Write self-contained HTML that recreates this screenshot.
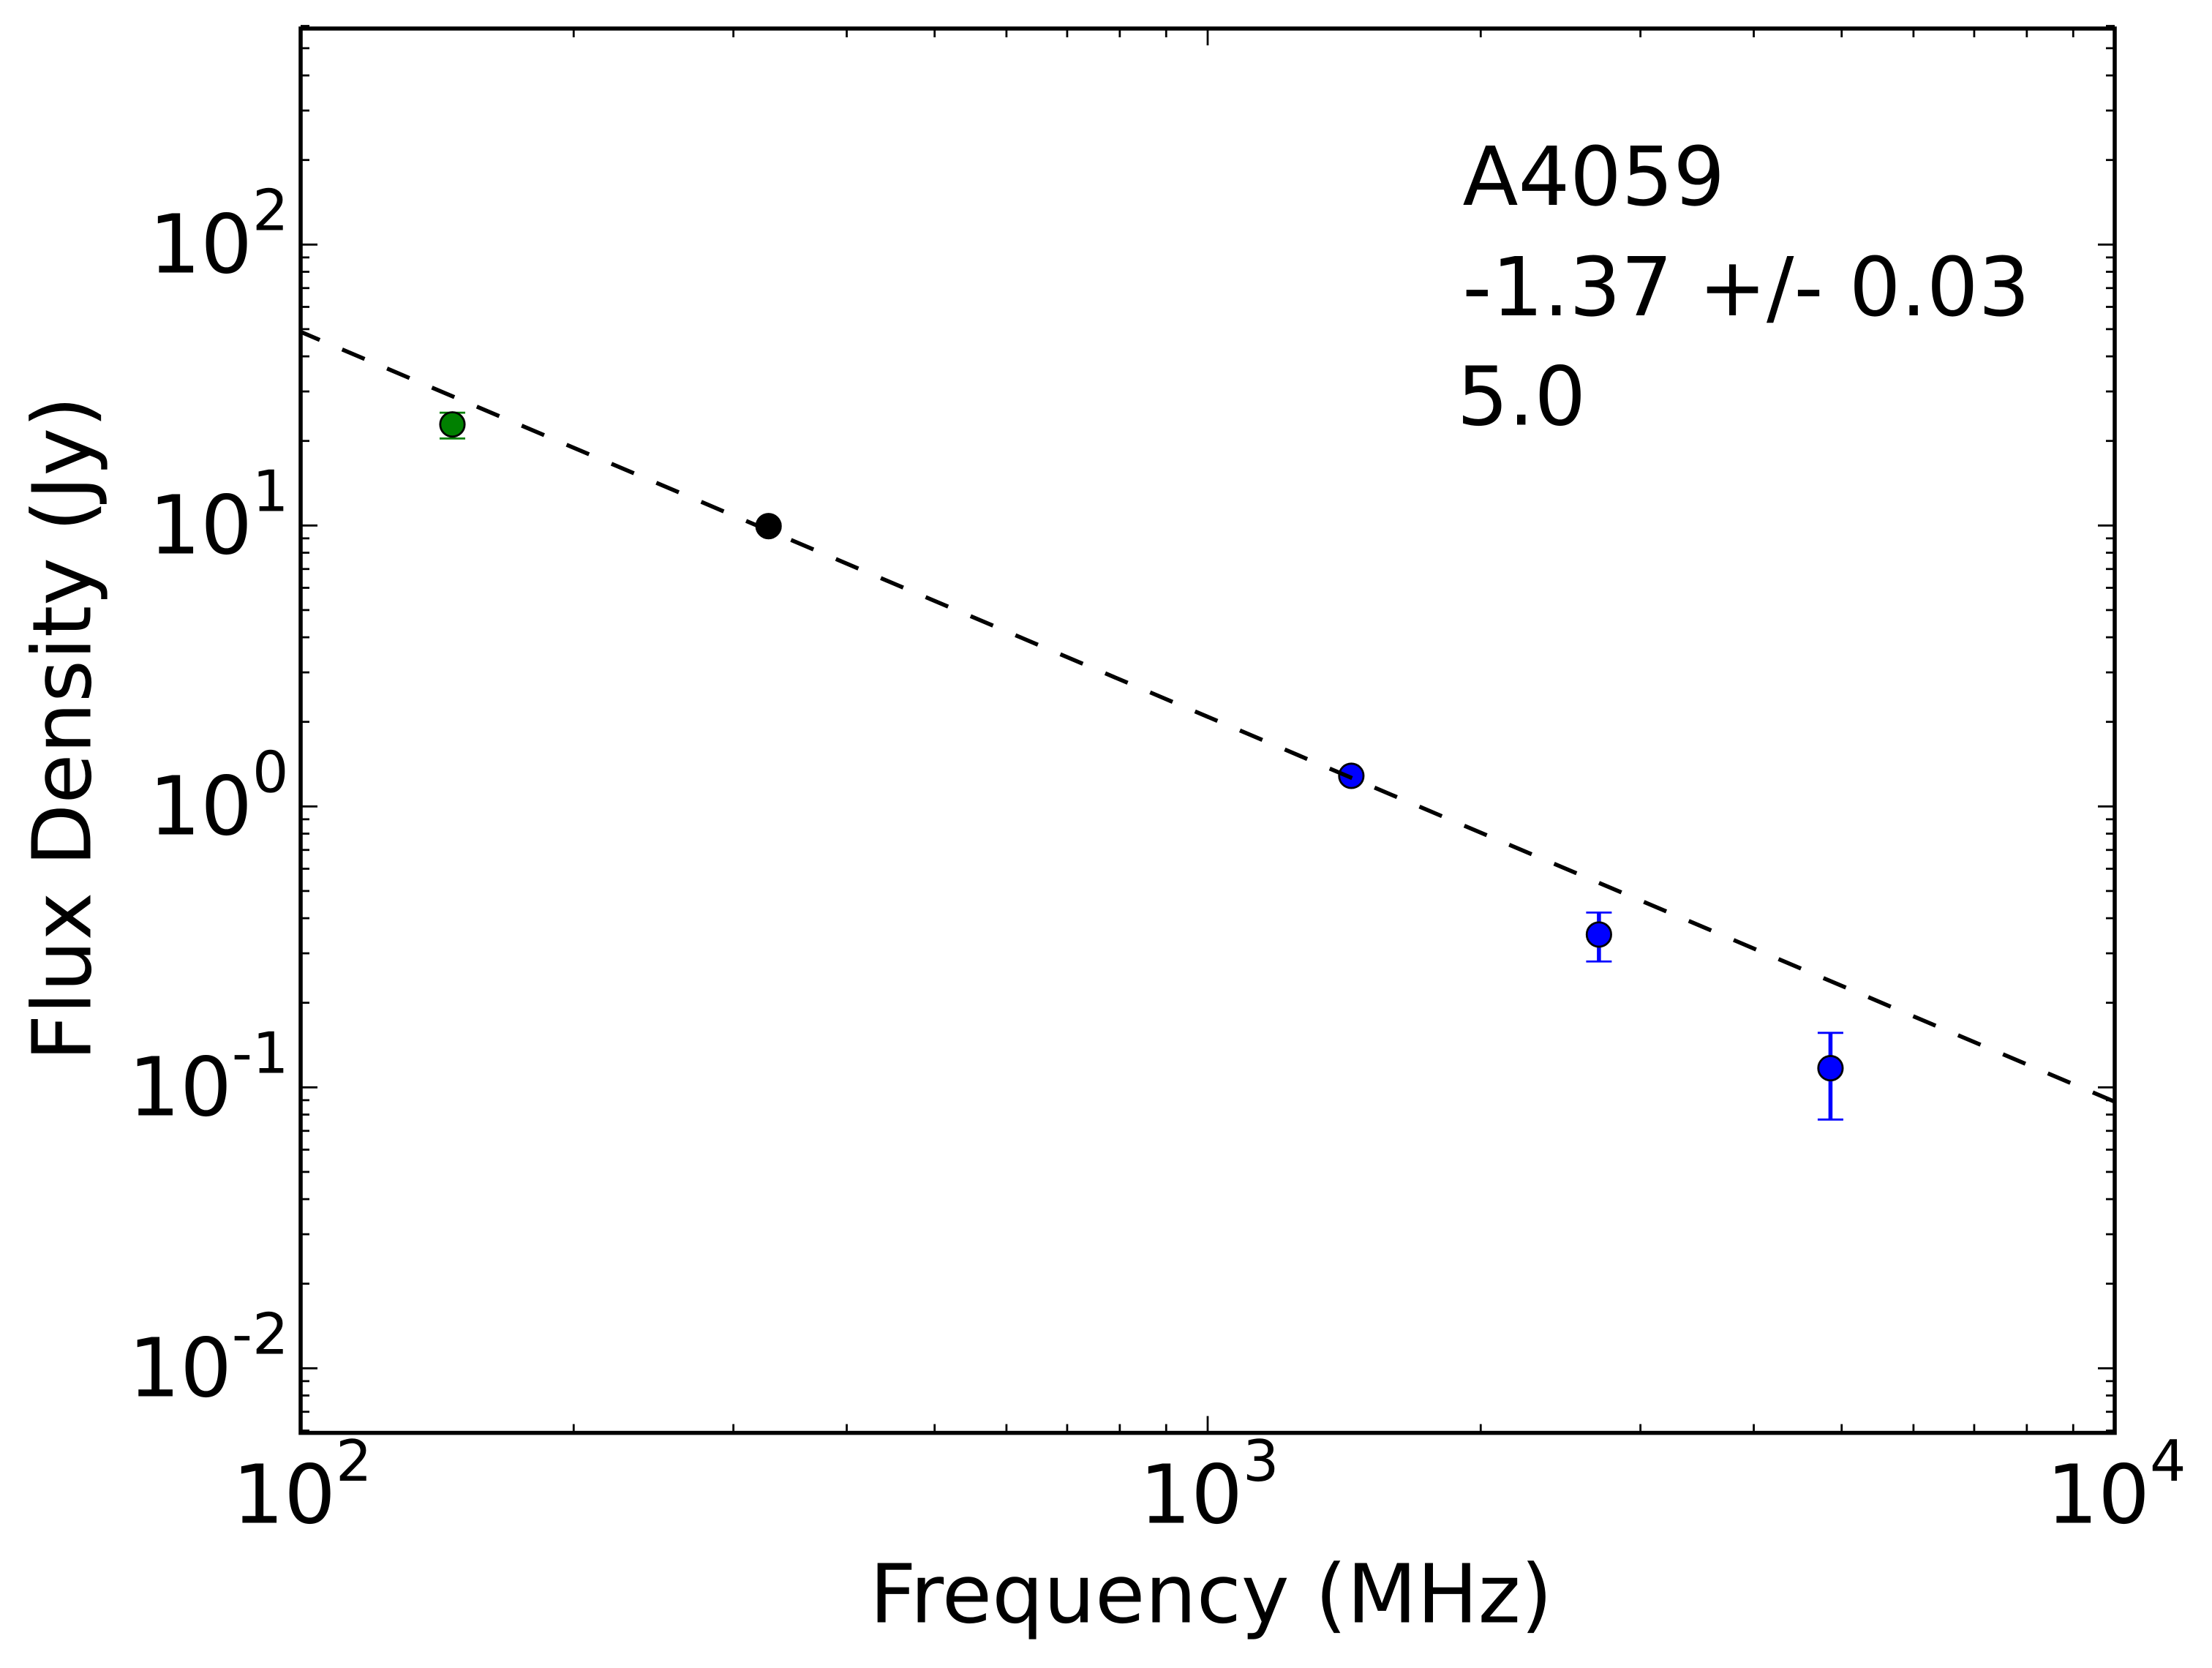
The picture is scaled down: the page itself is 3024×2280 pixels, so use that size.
<!DOCTYPE html>
<html lang="en">
<head>
<meta charset="utf-8">
<title>A4059 Flux Density Spectrum</title>
<style>
  html, body { margin: 0; padding: 0; background: #ffffff; }
  svg { display: block; }
  text { font-family: "DejaVu Sans", "Liberation Sans", sans-serif; fill: #000000; text-rendering: geometricPrecision; }
</style>
</head>
<body>
<svg id="chart" xmlns="http://www.w3.org/2000/svg" width="3024" height="2280" viewBox="0 0 3024 2280">
  <rect x="0" y="0" width="3024" height="2280" fill="#ffffff"/>
  <g id="error-layer"></g>
  <g id="marker-layer"></g>
  <g id="fit-layer"></g>
  <g id="tick-layer"></g>
  <rect x="411" y="39" width="2480" height="1919.6" fill="none" stroke="#000000" stroke-width="5.56"/>
  <g id="label-layer"></g>
  <text x="1655.5" y="2217.7" font-size="111.1" text-anchor="middle">Frequency (MHz)</text>
  <text x="123.5" y="996" font-size="111.1" text-anchor="middle" transform="rotate(-90 123.5 996)">Flux Density (Jy)</text>
  <text x="1999.5" y="280" font-size="111.1">A4059</text>
  <text x="1999.2" y="431" font-size="111.1">-1.37 +/- 0.03</text>
  <text x="1991.5" y="580.7" font-size="111.1">5.0</text>
</svg>
<script>
// Chart data
const pointFreq = [147, 328, 1440, 2700, 4860];
const pointFlux = [22.9, 9.95, 1.285, 0.35, 0.117];
const pointHigh = [25.2, 10.15, 1.31, 0.419, 0.1563];
const pointLow = [20.4, 9.75, 1.26, 0.2805, 0.0768];
const pointBand = ['low', 'mid', 'high', 'high', 'high'];
const fitFreq = [100, 10000];
const fitFlux = [48.9, 0.0889];
const xMajorExponents = [2, 3, 4];
const yMajorExponents = [-2, -1, 0, 1, 2];
const minorMultipliers = [2, 3, 4, 5, 6, 7, 8, 9];
const xTickLabels = ['2', '3', '4'];
const yTickLabels = ['-2', '-1', '0', '1', '2'];

const bandColor = { low: '#008000', mid: '#000000', high: '#0000ff' };
const SVG_NS = 'http://www.w3.org/2000/svg';
const plotLeft = 411, plotRight = 2891, plotTop = 39, plotBottom = 1958.6;

function xScale(freq) { return plotLeft + 1240 * (Math.log10(freq) - 2); }
function yScale(flux) { return 1102.3 - 384 * Math.log10(flux); }

function make(tag, attrs, parent) {
  const el = document.createElementNS(SVG_NS, tag);
  for (const k in attrs) el.setAttribute(k, attrs[k]);
  parent.appendChild(el);
  return el;
}

const errorLayer = document.getElementById('error-layer');
const markerLayer = document.getElementById('marker-layer');
const fitLayer = document.getElementById('fit-layer');
const tickLayer = document.getElementById('tick-layer');
const labelLayer = document.getElementById('label-layer');

// Error bars and markers
pointFreq.forEach(function (freq, i) {
  const cx = xScale(freq);
  const color = bandColor[pointBand[i]];
  const yHigh = yScale(pointHigh[i]);
  const yLow = yScale(pointLow[i]);

  const stem = make('line', { x1: cx, x2: cx, y1: yHigh, y2: yLow, stroke: color, 'stroke-width': 5.56 }, errorLayer);
  
  

  [yHigh, yLow].forEach(function (capY) {
    const cap = make('line', { x1: cx - 17.5, x2: cx + 17.5, y1: capY, y2: capY, stroke: color, 'stroke-width': 2.78 }, errorLayer);
    
    
  });

  const dot = make('circle', { cx: cx, cy: yScale(pointFlux[i]), r: 16.67, fill: color, stroke: '#000000', 'stroke-width': 2.78 }, markerLayer);
  
  
});

// Dashed power-law fit
const fitLine = make('line', {
  x1: xScale(fitFreq[0]), y1: yScale(fitFlux[0]),
  x2: xScale(fitFreq[1]), y2: yScale(fitFlux[1]),
  stroke: '#000000', 'stroke-width': 5.56,
  'stroke-dasharray': '33.33 33.33', 'stroke-dashoffset': 5
}, fitLayer);



// Tick marks (all four sides, pointing inward)
function xTick(px, len, name) {
  [[plotBottom, plotBottom - len], [plotTop, plotTop + len]].forEach(function (p) {
    const t = make('line', { x1: px, x2: px, y1: p[0], y2: p[1], stroke: '#000000', 'stroke-width': 2.78 }, tickLayer);
    
    
  });
}
function yTick(py, len, name) {
  [[plotLeft, plotLeft + len], [plotRight, plotRight - len]].forEach(function (p) {
    const t = make('line', { x1: p[0], x2: p[1], y1: py, y2: py, stroke: '#000000', 'stroke-width': 2.78 }, tickLayer);
    
    
  });
}

xMajorExponents.forEach(function (exp) {
  xTick(xScale(Math.pow(10, exp)), 23, 'x-major-tick');
  minorMultipliers.forEach(function (m) {
    const px = xScale(m * Math.pow(10, exp));
    if (px < plotRight) xTick(px, 12, 'x-minor-tick');
  });
});

[-3].concat(yMajorExponents).forEach(function (exp) {
  if (exp >= -2) yTick(yScale(Math.pow(10, exp)), 23, 'y-major-tick');
  minorMultipliers.forEach(function (m) {
    const py = yScale(m * Math.pow(10, exp));
    if (py > plotTop - 4 && py < plotBottom) yTick(py, 12, 'y-minor-tick');
  });
});

// Tick labels
function addPowerLabel(x, y, anchor, exponent, name) {
  const label = make('text', { x: x, y: y, 'font-size': 111.1, 'text-anchor': anchor }, labelLayer);
  
  
  label.appendChild(document.createTextNode('10'));
  const sup = make('tspan', { dy: -57.7, 'font-size': 77.8 }, label);
  sup.textContent = exponent;
}

xMajorExponents.forEach(function (exp, i) {
  addPowerLabel(xScale(Math.pow(10, exp)) + 2, 2081.7, 'middle', xTickLabels[i], 'x-tick-label');
});
yMajorExponents.forEach(function (exp, i) {
  addPowerLabel(394.5, yScale(Math.pow(10, exp)) + 38, 'end', yTickLabels[i], 'y-tick-label');
});
</script>
</body>
</html>
